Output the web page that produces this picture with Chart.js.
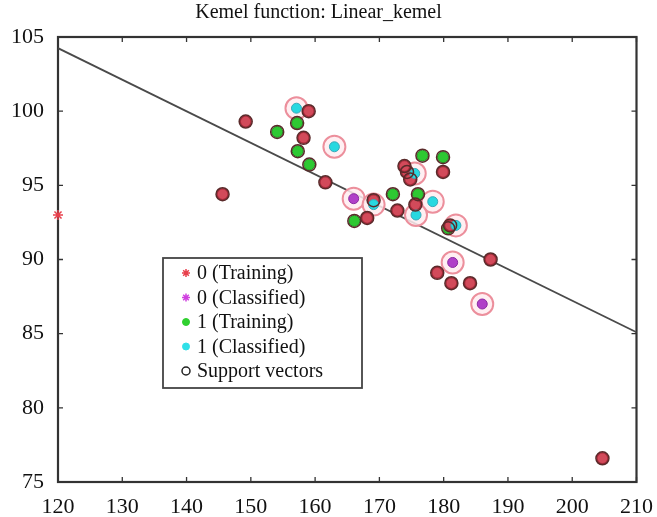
<!DOCTYPE html>
<html lang="en">
<head>
    <meta charset="UTF-8">
    <title>Kemel function: Linear_kemel</title>
    <script src="https://cdn.jsdelivr.net/npm/chart.js"></script>
    <style>
        html, body {
            margin: 0;
            padding: 0;
            background: #fff;
        }
        #wrap {
            width: 657px;
            height: 517px;
        }
    </style>
</head>
<body>
    <div id="wrap"><canvas id="chart"></canvas></div>

    <script>
        // axis ticks
        const xTicks = [120, 130, 140, 150, 160, 170, 180, 190, 200, 210];
        const yTicks = [75, 80, 85, 90, 95, 100, 105];

        // class 0, training points (support vectors)
        const train0X = [149.2, 159.0, 158.2, 145.6, 161.6, 174.3, 173.9, 174.8, 179.9, 169.1, 168.1, 172.8, 175.6, 181.0, 187.3, 179.0, 181.2, 184.1, 204.7];
        const train0Y = [99.3, 100.0, 98.2, 94.4, 95.2, 95.9, 96.3, 95.4, 95.9, 94.0, 92.8, 93.3, 93.7, 92.3, 90.0, 89.1, 88.4, 88.4, 76.6];
        // class 0, training point that is not a support vector
        const other0X = [120];
        const other0Y = [93.0];

        // class 1, training points
        const train1X = [157.2, 154.1, 157.3, 159.1, 176.7, 179.9, 172.1, 176.0, 166.1, 180.7];
        const train1Y = [99.2, 98.6, 97.3, 96.4, 97.0, 96.9, 94.4, 94.4, 92.6, 92.1];

        // classified points
        const class0X = [166.0, 181.4, 186.0];
        const class0Y = [94.1, 89.8, 87.0];
        const class1X = [157.1, 163.0, 175.5, 169.1, 178.3, 175.7, 181.9];
        const class1Y = [100.2, 97.6, 95.8, 93.7, 93.9, 93.0, 92.3];

        // separating line
        const lineX = [120, 210];
        const lineY = [104.25, 85.1];

        const pts = (xs, ys) => xs.map((x, i) => ({ x: x, y: ys[i] }));
        const serif = "'Liberation Serif', 'DejaVu Serif', serif";

        // рамка и внутренние засечки как в MATLAB
        const boxPlugin = {
            id: 'box',
            beforeDatasetsDraw(chart) {
                const { ctx, chartArea: a, scales } = chart;
                ctx.save();
                ctx.strokeStyle = '#333';
                ctx.lineWidth = 1.3;
                ctx.beginPath();
                xTicks.forEach(v => {
                    const px = scales.x.getPixelForValue(v);
                    ctx.moveTo(px, a.bottom); ctx.lineTo(px, a.bottom - 5);
                    ctx.moveTo(px, a.top); ctx.lineTo(px, a.top + 5);
                });
                yTicks.forEach(v => {
                    const py = scales.y.getPixelForValue(v);
                    ctx.moveTo(a.left, py); ctx.lineTo(a.left + 5, py);
                    ctx.moveTo(a.right, py); ctx.lineTo(a.right - 5, py);
                });
                ctx.stroke();
                ctx.lineWidth = 2.2;
                ctx.strokeRect(a.left, a.top, a.right - a.left, a.bottom - a.top);
                ctx.restore();
            }
        };

        // legend box inside the plot
        const legendPlugin = {
            id: 'innerLegend',
            afterDraw(chart) {
                const ctx = chart.ctx;
                const items = chart.data.datasets.filter(d => d.legendStyle);
                const left = 163, top = 258, w = 199, h = 130;
                ctx.save();
                ctx.fillStyle = '#fff';
                ctx.fillRect(left, top, w, h);
                ctx.strokeStyle = '#444';
                ctx.lineWidth = 1.8;
                ctx.strokeRect(left, top, w, h);
                ctx.font = '20px ' + serif;
                ctx.textBaseline = 'middle';
                items.forEach((d, i) => {
                    const y = top + 15 + i * 24.5;
                    const s = d.legendStyle;
                    ctx.fillStyle = s.fill;
                    ctx.strokeStyle = s.stroke;
                    ctx.lineWidth = s.width;
                    Chart.helpers.drawPoint(ctx, { pointStyle: s.style, radius: s.radius, rotation: 0, borderWidth: s.width }, left + 23, y);
                    ctx.fillStyle = '#111';
                    ctx.fillText(d.label, left + 34, y + 1);
                });
                ctx.restore();
            }
        };

        new Chart(document.getElementById('chart'), {
            type: 'scatter',
            data: {
                datasets: [
                    {
                        label: '0 (Training)',
                        data: pts(train0X.concat(other0X), train0Y.concat(other0Y)),
                        pointStyle: ctx => ctx.dataIndex < train0X.length ? 'circle' : 'star',
                        pointRadius: ctx => ctx.dataIndex < train0X.length ? 5.5 : 5,
                        backgroundColor: '#d24a5a',
                        borderColor: ctx => ctx.dataIndex < train0X.length ? '#a82a3a' : '#e8404c',
                        borderWidth: 1.5,
                        clip: false,
                        order: 3,
                        legendStyle: { style: 'star', radius: 4, fill: '#e8404c', stroke: '#e8404c', width: 1.5 }
                    },
                    {
                        label: '0 (Classified)',
                        data: pts(class0X, class0Y),
                        pointStyle: 'circle',
                        pointRadius: 5,
                        backgroundColor: '#b040c8',
                        borderColor: '#8a2aa0',
                        borderWidth: 1,
                        order: 2,
                        legendStyle: { style: 'star', radius: 4, fill: '#d040e0', stroke: '#d040e0', width: 1.5 }
                    },
                    {
                        label: '1 (Training)',
                        data: pts(train1X, train1Y),
                        pointStyle: 'circle',
                        pointRadius: 5.5,
                        backgroundColor: '#2ec832',
                        borderColor: '#1f8a22',
                        borderWidth: 1,
                        order: 3,
                        legendStyle: { style: 'circle', radius: 3.5, fill: '#30d030', stroke: '#30d030', width: 1 }
                    },
                    {
                        label: '1 (Classified)',
                        data: pts(class1X, class1Y),
                        pointStyle: 'circle',
                        pointRadius: 5,
                        backgroundColor: '#28d8e0',
                        borderColor: '#3aa8b8',
                        borderWidth: 1,
                        order: 2,
                        legendStyle: { style: 'circle', radius: 3.5, fill: '#30e0e8', stroke: '#30e0e8', width: 1 }
                    },
                    {
                        label: 'Support vectors',
                        data: pts(train0X.concat(train1X), train0Y.concat(train1Y)),
                        pointStyle: 'circle',
                        pointRadius: 6.5,
                        backgroundColor: 'rgba(0,0,0,0)',
                        borderColor: '#5a2a2a',
                        borderWidth: 1.5,
                        order: 1,
                        legendStyle: { style: 'circle', radius: 4, fill: 'rgba(0,0,0,0)', stroke: '#222', width: 1.5 }
                    },
                    {
                        label: 'rings',
                        data: pts(class0X.concat(class1X), class0Y.concat(class1Y)),
                        pointStyle: 'circle',
                        pointRadius: 11,
                        backgroundColor: 'rgba(255,236,240,0.85)',
                        borderColor: '#ec8f9c',
                        borderWidth: 2,
                        order: 4
                    },
                    {
                        label: 'line',
                        data: pts(lineX, lineY),
                        showLine: true,
                        borderColor: '#4a4a4a',
                        borderWidth: 1.8,
                        pointRadius: 0,
                        order: 5
                    }
                ]
            },
            options: {
                responsive: true,
                maintainAspectRatio: false,
                animation: false,
                events: [],
                layout: { padding: { right: 20 } },
                plugins: {
                    legend: { display: false },
                    tooltip: { enabled: false },
                    title: {
                        display: true,
                        text: 'Kemel function: Linear_kemel',
                        color: '#111',
                        font: { family: serif, size: 20, weight: 'normal' },
                        padding: { top: 1, bottom: 12 }
                    }
                },
                scales: {
                    x: {
                        type: 'linear',
                        min: 120,
                        max: 210,
                        afterBuildTicks: s => { s.ticks = xTicks.map(v => ({ value: v })); },
                        afterFit: s => { s.height = 35; },
                        grid: { display: false },
                        border: { display: false },
                        ticks: { color: '#111', font: { family: serif, size: 22 }, padding: 4, maxRotation: 0 }
                    },
                    y: {
                        min: 75,
                        max: 105,
                        afterBuildTicks: s => { s.ticks = yTicks.map(v => ({ value: v })); },
                        afterFit: s => { s.width = 58; },
                        grid: { display: false },
                        border: { display: false },
                        ticks: { color: '#111', font: { family: serif, size: 22 }, padding: 6 }
                    }
                }
            },
            plugins: [boxPlugin, legendPlugin]
        });
    </script>
</body>
</html>
